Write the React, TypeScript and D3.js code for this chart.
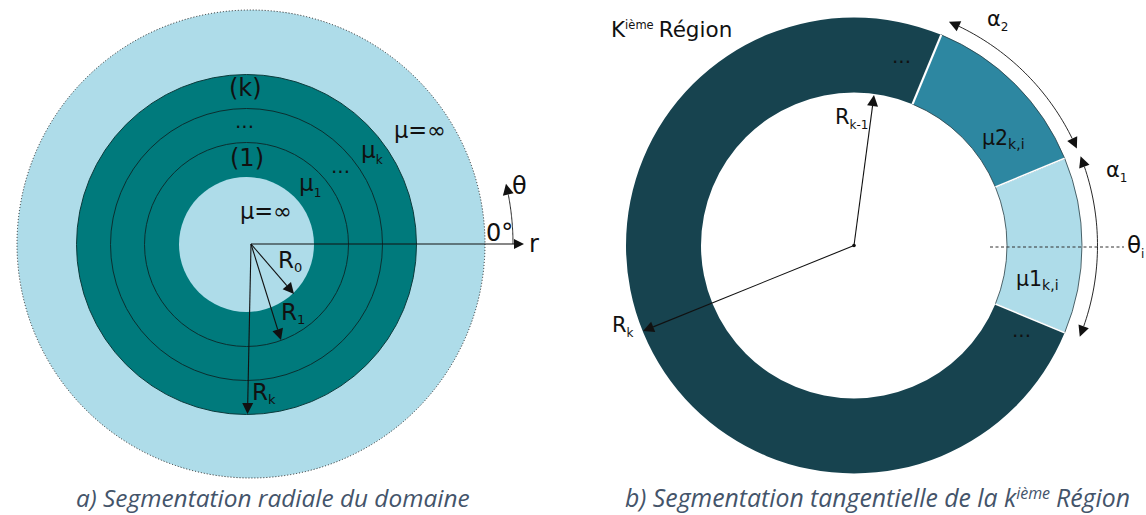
import React from "react";
import * as d3 from "d3";

// Left panel: radii of the concentric regions
const ringRadii = [102, 136, 170];
const boreRadius = 67.5;
const outerRadius = 234;
// Right panel: angular boundaries (degrees, counter-clockwise from +x)
const segments = [
  { from: -22.5, to: 22.5, color: "#aedce9" },
  { from: 22.5, to: 67.5, color: "#2d87a1" },
  { from: 67.5, to: 337.5, color: "#17434f" },
];
const boundaries = [
  { deg: -22.5, gap: 1.5 },
  { deg: 22.5, gap: 1.6 },
  { deg: 67.5, gap: 2.2 },
];
const alphaArcs = [
  { from: 23.5, to: 67, r: 243 },
  { from: -22, to: 21.5, r: 243.5 },
];

const toD3 = (deg: number) => ((90 - deg) * Math.PI) / 180;
const arcGen = d3.arc();
const FONT = "'DejaVu Sans', sans-serif";
const INK = "#111";

function Arrow({ x1, y1, x2, y2, size = 11, w = 1.1 }: any) {
  const a = Math.atan2(y2 - y1, x2 - x1);
  const half = size * 0.5;
  const bx = x2 - size * Math.cos(a), by = y2 - size * Math.sin(a);
  const pts = [
    [x2, y2],
    [bx - half * Math.sin(a), by + half * Math.cos(a)],
    [bx + half * Math.sin(a), by - half * Math.cos(a)],
  ];
  return (
    <g>
      <line x1={x1} y1={y1} x2={bx} y2={by} stroke={INK} strokeWidth={w} />
      <polygon points={pts.join(" ")} fill={INK} />
    </g>
  );
}

// Arc with arrow heads, cx/cy-centred, angles in degrees
function ArcArrow({ cx, cy, r, from, to, heads }: any) {
  const pt = (d: number) => [cx + r * Math.cos((d * Math.PI) / 180), cy - r * Math.sin((d * Math.PI) / 180)];
  const line = d3.line().curve(d3.curveLinear);
  const trim = (11 / r) * (180 / Math.PI);
  const f = heads.includes("from") ? from + trim : from;
  const t = heads.includes("to") ? to - trim : to;
  const pts = d3.range(0, 41).map((i) => pt(f + ((t - f) * i) / 40)) as [number, number][];
  return (
    <g>
      <path d={line(pts) as string} fill="none" stroke={INK} strokeWidth={0.9} />
      {heads.includes("from") && <Arrow x1={pt(f)[0]} y1={pt(f)[1]} x2={pt(from)[0]} y2={pt(from)[1]} w={0} />}
      {heads.includes("to") && <Arrow x1={pt(t)[0]} y1={pt(t)[1]} x2={pt(to)[0]} y2={pt(to)[1]} w={0} />}
    </g>
  );
}

function Lbl({ x, y, t, sub, size = 22.5, subSize = 13, dy = 5 }: any) {
  return (
    <text x={x} y={y} fontFamily={FONT} fontSize={size} fill={INK}>
      {t}
      {sub && (
        <tspan fontSize={subSize} dy={dy}>
          {sub}
        </tspan>
      )}
    </text>
  );
}

export default function App() {
  const lc = [251, 244];
  const tc = [246.5, 244.5];
  const rc = [854, 245.5];
  const R0 = 153, R1 = 228;
  return (
    <svg width={1146} height={515} style={{ position: "absolute", left: 0, top: 0, background: "#fff" }}>
      {/* Left panel */}
      <circle cx={lc[0]} cy={lc[1]} r={outerRadius} fill="#aedce9" stroke="#222" strokeWidth={1} strokeDasharray="1 2" />
      <circle cx={tc[0]} cy={tc[1]} r={ringRadii[2]} fill="#007a7c" stroke="#0b3b3c" strokeWidth={1} />
      {ringRadii.slice(0, 2).map((r) => (
        <circle key={r} cx={tc[0]} cy={tc[1]} r={r} fill="none" stroke="#0b2f30" strokeWidth={1} />
      ))}
      <circle cx={tc[0]} cy={tc[1]} r={boreRadius} fill="#aedce9" />
      <Arrow x1={lc[0]} y1={lc[1]} x2={524} y2={lc[1]} size={10} w={1.2} />
      <Arrow x1={lc[0]} y1={lc[1]} x2={294} y2={294} />
      <Arrow x1={lc[0]} y1={lc[1]} x2={281} y2={340} />
      <Arrow x1={lc[0]} y1={lc[1]} x2={247.5} y2={414} />
      <ArcArrow cx={lc[0]} cy={lc[1]} r={262} from={0} to={13.3} heads={["to"]} />
      <Lbl x={229} y={96} t="(k)" size={24} />
      <Lbl x={235} y={128} t="..." size={20} />
      <Lbl x={230} y={166} t="(1)" size={24} />
      <Lbl x={240} y={219} t="μ=∞" />
      <Lbl x={299} y={191} t="μ" sub="1" size={23} subSize={12} dy={6} />
      <Lbl x={331} y={173} t="..." size={20} />
      <Lbl x={361} y={158} t="μ" sub="k" size={23} subSize={12} dy={6} />
      <Lbl x={394} y={138} t="μ=∞" />
      <Lbl x={278} y={268} t="R" sub="0" size={23} subSize={13} dy={4} />
      <Lbl x={281} y={320} t="R" sub="1" size={23} subSize={13} dy={4} />
      <Lbl x={252} y={400} t="R" sub="k" size={23} subSize={13} dy={4} />
      <Lbl x={486} y={241} t="0°" size={24} />
      <Lbl x={512} y={194} t="θ" size={24} />
      <Lbl x={529} y={252} t="r" size={24} />

      {/* Right panel */}
      <g transform={`translate(${rc[0]},${rc[1]})`}>
        {segments.map((s) => (
          <path
            key={s.from}
            d={
              arcGen({
                innerRadius: R0,
                outerRadius: R1,
                startAngle: toD3(s.to),
                endAngle: toD3(s.from),
              }) as string
            }
            fill={s.color}
            stroke={s.color === "#17434f" ? "none" : "#2a3f45"}
            strokeWidth={0.8}
          />
        ))}
        {boundaries.map((b) => {
          const c = Math.cos((b.deg * Math.PI) / 180), s = Math.sin((b.deg * Math.PI) / 180);
          return (
            <line key={b.deg} x1={R0 * c} y1={-R0 * s} x2={R1 * c} y2={-R1 * s} stroke="#fff" strokeWidth={b.gap} />
          );
        })}
      </g>
      <line x1={990} y1={247} x2={1124} y2={247} stroke="#333" strokeWidth={1} strokeDasharray="3 2.5" />
      {alphaArcs.map((a) => (
        <ArcArrow key={a.from} cx={rc[0]} cy={rc[1]} r={a.r} from={a.from} to={a.to} heads={["from", "to"]} />
      ))}
      <circle cx={rc[0]} cy={rc[1]} r={1.8} fill={INK} />
      <Arrow x1={rc[0]} y1={rc[1]} x2={874} y2={95} />
      <Arrow x1={rc[0]} y1={rc[1]} x2={643} y2={331} />
      <text x={611} y={37} fontFamily={FONT} fontSize={21.5} fill={INK}>
        K
        <tspan fontSize={11.5} dy={-8}>ième</tspan>
        <tspan fontSize={21.5} dy={8} dx={5}>Région</tspan>
      </text>
      <Lbl x={835} y={124} t="R" sub="k-1" size={21} subSize={12} />
      <Lbl x={612} y={332} t="R" sub="k" size={21} subSize={12} />
      <Lbl x={892} y={63} t="..." size={20} />
      <Lbl x={1012} y={337} t="..." size={20} />
      <Lbl x={982} y={145} t="μ2" sub="k,i" size={20.5} subSize={14} dy={4} />
      <Lbl x={1016} y={286} t="μ1" sub="k,i" size={20.5} subSize={14} dy={4} />
      <Lbl x={987} y={26} t="α" sub="2" size={21} subSize={12} />
      <Lbl x={1106} y={177} t="α" sub="1" size={21} subSize={12} />
      <Lbl x={1127} y={253} t="θ" sub="i" size={23} subSize={12} />

      {/* Captions */}
      <text x={76} y={507} fontFamily="'Open Sans', sans-serif" fontStyle="italic" fontSize={24.4} fill="#44546a">
        a) Segmentation radiale du domaine
      </text>
      <text x={625} y={507} fontFamily="'Open Sans', sans-serif" fontStyle="italic" fontSize={24.8} fill="#44546a">
        b) Segmentation tangentielle de la k
        <tspan fontSize={16} dy={-8}>ième</tspan>
        <tspan dy={8} dx={6}>Région</tspan>
      </text>
    </svg>
  );
}
